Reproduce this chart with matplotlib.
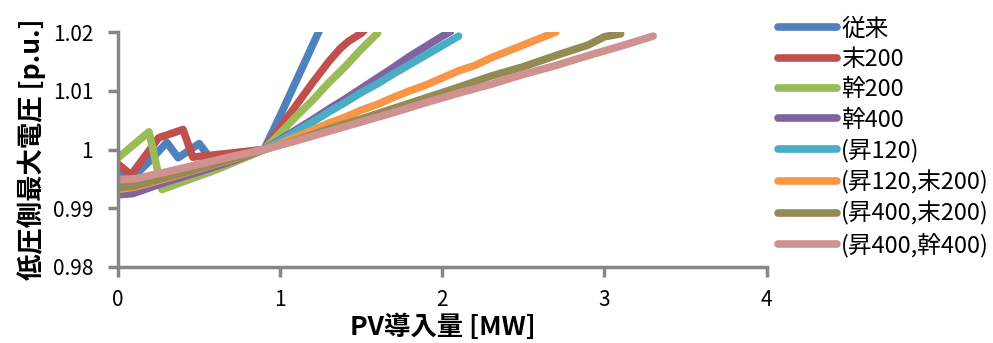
import matplotlib
matplotlib.use("Agg")
import matplotlib.pyplot as plt

plt.rcParams['font.family'] = ['Noto Sans CJK JP', 'DejaVu Sans']

# 各ケースの PV導入量 [MW] と 低圧側最大電圧 [p.u.]
x_conv = [0, 0.1, 0.2, 0.3, 0.37, 0.5, 0.56, 0.7, 0.9, 1.0, 1.1, 1.2, 1.3]
y_conv = [0.9963, 0.9955, 0.9982, 1.0012, 0.9986, 1.0010, 0.9988, 0.9993, 1.0000,
          1.0058, 1.0118, 1.0178, 1.0238]

x_sue200 = [0, 0.08, 0.25, 0.4, 0.46, 0.6, 0.9, 1.0, 1.1, 1.2, 1.3, 1.37, 1.42, 1.5, 1.55]
y_sue200 = [0.9975, 0.9957, 1.0020, 1.0034, 0.9987, 0.9991, 1.0000, 1.0038, 1.0076,
            1.0114, 1.0150, 1.0172, 1.0184, 1.0198, 1.0212]

x_kan200 = [0, 0.19, 0.27, 0.4, 0.6, 0.8, 0.9, 1.0, 1.1, 1.2, 1.3, 1.4, 1.5, 1.6]
y_kan200 = [0.9986, 1.0030, 0.9932, 0.9945, 0.9965, 0.9988, 1.0000, 1.0028, 1.0057,
            1.0084, 1.0114, 1.0141, 1.0171, 1.0198]

x_kan400 = [0, 0.09, 0.3, 0.5, 0.7, 0.9, 1.0, 1.1, 1.2, 1.3, 1.4, 1.5, 1.6, 1.7, 1.8,
            1.9, 2.0, 2.05]
y_kan400 = [0.9923, 0.9925, 0.9945, 0.9962, 0.9980, 1.0000, 1.0017, 1.0034, 1.0051,
            1.0069, 1.0086, 1.0104, 1.0122, 1.0140, 1.0159, 1.0176, 1.0193, 1.0201]

x_sho120 = [0, 0.1, 0.3, 0.5, 0.7, 0.9, 1.0, 1.1, 1.2, 1.3, 1.4, 1.5, 1.6, 1.7, 1.8,
            1.9, 2.0, 2.1]
y_sho120 = [0.9938, 0.9940, 0.9955, 0.9969, 0.9985, 1.0000, 1.0015, 1.0031, 1.0047,
            1.0064, 1.0080, 1.0097, 1.0112, 1.0129, 1.0145, 1.0161, 1.0177, 1.0193]

x_sho120_sue200 = [0, 0.1, 0.3, 0.5, 0.7, 0.9, 1.0, 1.1, 1.2, 1.3, 1.4, 1.5, 1.6, 1.7,
                   1.8, 1.9, 2.0, 2.1, 2.2, 2.3, 2.4, 2.5, 2.6, 2.7]
y_sho120_sue200 = [0.9932, 0.9936, 0.9951, 0.9967, 0.9983, 1.0000, 1.0010, 1.0022,
                   1.0033, 1.0045, 1.0055, 1.0067, 1.0077, 1.0089, 1.0100, 1.0110,
                   1.0122, 1.0134, 1.0143, 1.0156, 1.0167, 1.0178, 1.0189, 1.0200]

x_sho400_sue200 = [0, 0.1, 0.3, 0.5, 0.7, 0.9, 1.1, 1.3, 1.5, 1.7, 1.9, 2.1, 2.3, 2.5,
                   2.7, 2.9, 3.0, 3.1]
y_sho400_sue200 = [0.9935, 0.9938, 0.9953, 0.9968, 0.9984, 1.0000, 1.0016, 1.0035,
                   1.0052, 1.0070, 1.0088, 1.0106, 1.0125, 1.0141, 1.0160, 1.0178,
                   1.0192, 1.0197]

x_sho400_kan400 = [0, 0.1, 0.3, 0.5, 0.7, 0.9, 1.1, 1.3, 1.5, 1.7, 1.9, 2.1, 2.3, 2.5,
                   2.7, 2.9, 3.1, 3.3]
y_sho400_kan400 = [0.9949, 0.9950, 0.9962, 0.9975, 0.9988, 1.0000, 1.0015, 1.0031,
                   1.0047, 1.0063, 1.0080, 1.0096, 1.0111, 1.0128, 1.0143, 1.0160,
                   1.0176, 1.0193]

labels = ['従来', '末200', '幹200', '幹400', '(昇120)', '(昇120,末200)',
          '(昇400,末200)', '(昇400,幹400)']
colors = ['#4F81BD', '#C0504D', '#9BBB59', '#8064A2', '#4BACC6', '#F79646',
          '#948A54', '#D09290']
series = [(x_conv, y_conv), (x_sue200, y_sue200), (x_kan200, y_kan200),
          (x_kan400, y_kan400), (x_sho120, y_sho120),
          (x_sho120_sue200, y_sho120_sue200), (x_sho400_sue200, y_sho400_sue200),
          (x_sho400_kan400, y_sho400_kan400)]

fig = plt.figure(figsize=(9.93, 3.43), dpi=100)
ax = fig.add_axes([0.119, 0.2216, 0.653, 0.685])

lines = []
for (xs, ys), lab, c in zip(series, labels, colors):
    ln, = ax.plot(xs, ys, color=c, lw=5.5, label=lab,
                  solid_capstyle='round', solid_joinstyle='round')
    lines.append(ln)

ax.set_xlim(0, 4)
ax.set_ylim(0.98, 1.02)
ax.set_xticks([0, 1, 2, 3, 4])
ax.set_yticks([0.98, 0.99, 1.0, 1.01, 1.02])
ax.set_yticklabels(['0.98', '0.99', '1', '1.01', '1.02'])

for s in ['top', 'right']:
    ax.spines[s].set_visible(False)
for s in ['left', 'bottom']:
    ax.spines[s].set_color('#868686')
    ax.spines[s].set_linewidth(2.5)
ax.tick_params(direction='out', length=7, width=2.5, color='#868686',
               labelsize=15)
ax.tick_params(axis='x', pad=9)
ax.tick_params(axis='y', pad=11)

ax.set_xlabel('PV導入量 [MW]', fontsize=19, fontweight='bold', labelpad=2)
ax.set_ylabel('低圧側最大電圧 [p.u.]', fontsize=19, fontweight='bold', labelpad=5)

fig.legend(handles=lines, loc='upper left', bbox_to_anchor=(0.774, 0.976),
           frameon=False, fontsize=17, handlelength=2.5, handletextpad=0.17,
           labelspacing=0.31, borderaxespad=0)

fig.savefig('out.png', dpi=100)
